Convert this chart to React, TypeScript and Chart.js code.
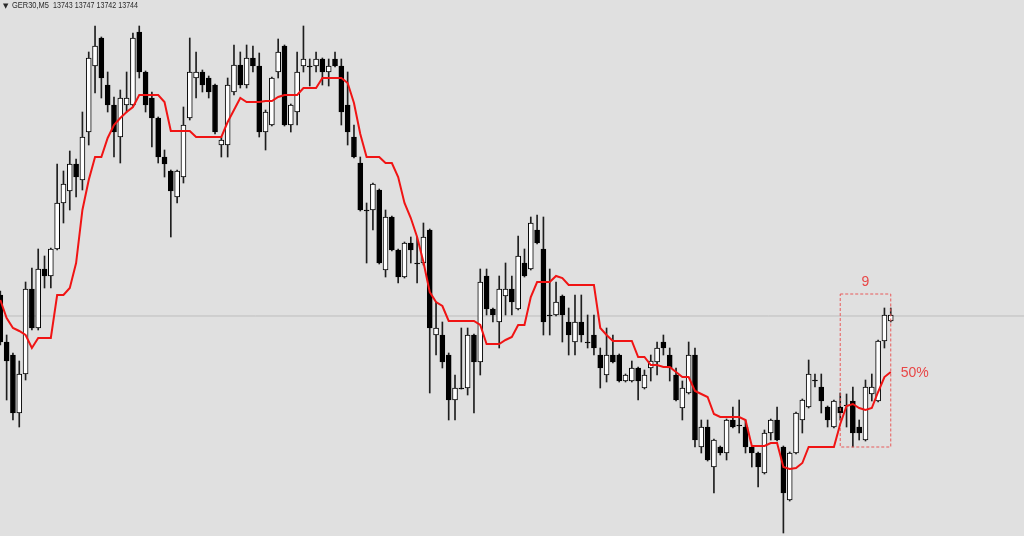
import { useEffect, useRef } from "react";
import { Chart, registerables } from "chart.js";

Chart.register(...registerables);

const symbolLabel = "GER30,M5";
const quoteLabel = "13743 13747 13742 13744";
const lastPrice = 13744;

const open = [
  13765, 13718, 13705, 13647, 13686, 13771, 13732, 13791, 13784, 13811,
  13857, 13869, 13896, 13880, 13928, 13994, 14022, 13975, 13955, 13923,
  13955, 13955, 14028, 13988, 13962, 13942, 13903, 13889, 13863, 13883,
  13942, 13982, 13988, 13982, 13975, 13915, 13915, 13968, 13995, 13975,
  14002, 13994, 13928, 13935, 13988, 14014, 13935, 13948, 13994, 13994,
  13994, 14001, 13988, 14001, 13994, 13955, 13923, 13897, 13850, 13850,
  13870, 13790, 13843, 13810, 13783, 13817, 13797, 13797, 13830, 13725,
  13725, 13705, 13660, 13672, 13672, 13725, 13698, 13784, 13751, 13738,
  13764, 13771, 13751, 13797, 13791, 13830, 13811, 13745, 13745, 13764,
  13738, 13718, 13738, 13718, 13725, 13705, 13685, 13705, 13705, 13679,
  13679, 13692, 13672, 13692, 13698, 13718, 13705, 13685, 13652, 13667,
  13705, 13613, 13633, 13593, 13613, 13607, 13640, 13635, 13633, 13613,
  13607, 13587, 13627, 13640, 13613, 13560, 13607, 13640, 13653, 13680,
  13673, 13653, 13633, 13653, 13655, 13659, 13633, 13620, 13666, 13659,
  13719, 13739,
];

const high = [
  13769, 13725, 13707, 13699, 13778, 13792, 13811, 13804, 13812, 13896,
  13889, 13909, 13901, 13948, 14008, 14034, 14023, 13988, 13963, 13970,
  13988, 14027, 14034, 13989, 13968, 13943, 13910, 13890, 13890, 13953,
  14022, 14008, 13990, 13984, 13976, 13923, 13982, 14015, 14008, 14015,
  14014, 14007, 13950, 13983, 14021, 14015, 13956, 14008, 14034, 14001,
  14008, 14002, 14001, 14008, 14001, 13988, 13935, 13903, 13857, 13877,
  13871, 13850, 13844, 13811, 13818, 13823, 13823, 13837, 13831, 13758,
  13738, 13707, 13685, 13732, 13732, 13726, 13791, 13791, 13752, 13784,
  13797, 13784, 13824, 13811, 13843, 13845, 13843, 13791, 13778, 13765,
  13752, 13765, 13765, 13745, 13745, 13712, 13732, 13725, 13706, 13686,
  13699, 13693, 13690, 13705, 13718, 13725, 13712, 13692, 13679, 13718,
  13712, 13640, 13640, 13621, 13614, 13641, 13653, 13660, 13640, 13614,
  13608, 13630, 13641, 13653, 13614, 13608, 13648, 13661, 13700, 13686,
  13686, 13654, 13660, 13667, 13666, 13673, 13640, 13680, 13686, 13720,
  13752, 13752,
];

const low = [
  13715, 13660, 13640, 13633, 13680, 13730, 13730, 13772, 13772, 13810,
  13837, 13850, 13863, 13870, 13915, 13967, 13962, 13948, 13903, 13897,
  13948, 13954, 13982, 13948, 13913, 13897, 13883, 13823, 13857, 13877,
  13940, 13962, 13968, 13962, 13926, 13903, 13903, 13965, 13972, 13972,
  13988, 13923, 13910, 13934, 13982, 13934, 13928, 13935, 13988, 13974,
  13988, 13975, 13974, 13993, 13935, 13915, 13902, 13849, 13797, 13830,
  13796, 13783, 13809, 13777, 13782, 13797, 13777, 13795, 13667, 13705,
  13692, 13640, 13640, 13671, 13665, 13647, 13685, 13745, 13738, 13712,
  13745, 13745, 13750, 13783, 13790, 13816, 13725, 13725, 13744, 13718,
  13705, 13705, 13718, 13712, 13705, 13672, 13678, 13697, 13678, 13678,
  13678, 13660, 13671, 13679, 13685, 13705, 13679, 13659, 13640, 13666,
  13613, 13607, 13599, 13567, 13605, 13600, 13632, 13627, 13607, 13593,
  13573, 13586, 13620, 13619, 13527, 13559, 13606, 13627, 13652, 13673,
  13647, 13633, 13632, 13640, 13633, 13613, 13620, 13619, 13659, 13658,
  13712, 13738,
];

const close = [
  13718, 13699, 13647, 13686, 13771, 13732, 13791, 13784, 13811, 13857,
  13876, 13896, 13883, 13923, 14002, 14014, 13982, 13955, 13928, 13962,
  13962, 14022, 13988, 13955, 13942, 13903, 13896, 13869, 13889, 13935,
  13988, 13988, 13975, 13968, 13928, 13920, 13975, 13995, 13975, 14002,
  13994, 13928, 13948, 13982, 14008, 13935, 13955, 13988, 14001, 13993,
  14001, 13988, 13994, 13994, 13948, 13928, 13903, 13850, 13849, 13876,
  13797, 13843, 13810, 13783, 13817, 13810, 13796, 13823, 13732, 13732,
  13698, 13660, 13672, 13671, 13725, 13698, 13778, 13751, 13745, 13771,
  13771, 13758, 13804, 13784, 13837, 13817, 13738, 13744, 13758, 13745,
  13725, 13738, 13725, 13717, 13712, 13692, 13705, 13698, 13679, 13685,
  13692, 13679, 13685, 13699, 13712, 13712, 13692, 13660, 13672, 13705,
  13620, 13633, 13600, 13620, 13607, 13640, 13633, 13634, 13613, 13607,
  13593, 13627, 13640, 13620, 13567, 13607, 13647, 13660, 13686, 13679,
  13659, 13640, 13659, 13647, 13654, 13627, 13627, 13673, 13673, 13719,
  13745, 13745,
];

const midLine = [
  13760, 13742, 13732, 13729, 13725, 13712, 13722, 13722, 13722, 13765,
  13765, 13772, 13797, 13850, 13880, 13903, 13903, 13922, 13935, 13942,
  13948, 13953, 13965, 13965, 13965, 13965, 13958, 13929, 13929, 13929,
  13929, 13923, 13923, 13923, 13923, 13923, 13938, 13950, 13962, 13958,
  13958, 13958, 13959, 13959, 13963, 13965, 13965, 13965, 13972, 13972,
  13972, 13982, 13982, 13982, 13982, 13977, 13957, 13926, 13903, 13903,
  13903, 13897, 13897, 13883, 13857, 13842, 13823, 13798, 13768, 13758,
  13754, 13739, 13739, 13739, 13739, 13739, 13735, 13716, 13716, 13716,
  13720, 13723, 13735, 13735, 13763, 13778, 13778, 13778, 13784, 13782,
  13775, 13775, 13775, 13775, 13775, 13732, 13725, 13719, 13719, 13719,
  13719, 13703, 13703, 13695, 13695, 13693, 13693, 13688, 13683, 13683,
  13669, 13666, 13663, 13646, 13643, 13643, 13643, 13643, 13640, 13614,
  13614, 13614, 13617, 13617, 13593, 13591, 13592, 13597, 13613, 13613,
  13613, 13613, 13613, 13636, 13654, 13656, 13652, 13650, 13652, 13668,
  13683, 13688,
];

const periodLabel = "9";
const ratioLabel = "50%";
const boxFromIndex = 133;
const boxToIndex = 141;
const boxTopPrice = 13766;
const boxBottomPrice = 13613;

const labelPlugin = {
  id: "textLabels",
  afterDraw(chart: any) {
    const { ctx } = chart;
    const xs = chart.scales.x;
    const ys = chart.scales.y;
    ctx.save();
    ctx.fillStyle = "#2a2a2a";
    ctx.textBaseline = "middle";
    ctx.textAlign = "left";
    ctx.font = '7px "DejaVu Sans"';
    ctx.fillText("▼", 3, 6);
    ctx.font = '8.5px "Liberation Sans", Arial, sans-serif';
    ctx.fillText(symbolLabel, 12, 6, 37);
    ctx.fillText(quoteLabel, 53, 6, 85);

    ctx.fillStyle = "#e84646";
    ctx.font = '14px "Liberation Sans", Arial, sans-serif';
    ctx.textAlign = "center";
    const cx = (xs.getPixelForValue(boxFromIndex) + xs.getPixelForValue(boxToIndex)) / 2;
    ctx.fillText(periodLabel, cx, ys.getPixelForValue(boxTopPrice) - 12);
    ctx.textAlign = "left";
    ctx.fillText(
      ratioLabel,
      xs.getPixelForValue(boxToIndex) + 10,
      ys.getPixelForValue(midLine[midLine.length - 1]) + 1
    );
    ctx.restore();
  },
};

export default function App() {
  const ref = useRef<HTMLCanvasElement>(null);

  useEffect(() => {
    if (!ref.current) return;
    const idx = open.map((_, i) => i);
    const bodies = idx.map((i) => ({
      x: i,
      y: [Math.min(open[i], close[i]), Math.max(open[i], close[i])],
    }));
    const wicks = idx.map((i) => ({ x: i, y: [low[i], high[i]] }));
    const bull = idx.map((i) => close[i] > open[i]);
    const line = idx.map((i) => ({ x: i, y: midLine[i] }));
    const box = [
      { x: boxFromIndex, y: boxTopPrice },
      { x: boxToIndex, y: boxTopPrice },
      { x: boxToIndex, y: boxBottomPrice },
      { x: boxFromIndex, y: boxBottomPrice },
      { x: boxFromIndex, y: boxTopPrice },
    ];

    const chart = new Chart(ref.current, {
      type: "bar",
      data: {
        datasets: [
          {
            type: "line",
            data: line,
            borderColor: "#f01414",
            borderWidth: 2,
            pointRadius: 0,
            tension: 0,
            order: 0,
          } as any,
          {
            type: "line",
            data: box,
            borderColor: "#e85a5a",
            borderWidth: 1,
            borderDash: [3, 2],
            pointRadius: 0,
            tension: 0,
            order: 1,
          } as any,
          {
            type: "bar",
            data: bodies,
            backgroundColor: bull.map((b) => (b ? "#ffffff" : "#000000")),
            borderColor: "#000000",
            borderWidth: 1,
            borderSkipped: false,
            barThickness: 5,
            grouped: false,
            order: 2,
          } as any,
          {
            type: "bar",
            data: wicks,
            backgroundColor: "#1e1e1e",
            borderWidth: 0,
            barThickness: 1,
            grouped: false,
            order: 3,
          } as any,
          {
            type: "line",
            data: [
              { x: -5, y: lastPrice },
              { x: 170, y: lastPrice },
            ],
            borderColor: "#bdbdbd",
            borderWidth: 1,
            pointRadius: 0,
            order: 4,
          } as any,
        ],
      },
      options: {
        animation: false,
        responsive: false,
        maintainAspectRatio: false,
        layout: { padding: 0 },
        plugins: {
          legend: { display: false },
          tooltip: { enabled: false },
          title: { display: false },
        },
        scales: {
          x: { type: "linear", min: -0.05, max: 162.1, display: false, offset: false },
          y: { type: "linear", min: 13524, max: 14060, display: false },
        },
      } as any,
      plugins: [labelPlugin],
    });
    return () => chart.destroy();
  }, []);

  return (
    <div
      style={{
        position: "fixed",
        left: 0,
        top: 0,
        width: 1024,
        height: 536,
        background: "#e0e0e0",
        overflow: "hidden",
      }}
    >
      <canvas ref={ref} width={1024} height={536} style={{ display: "block" }} />
    </div>
  );
}
